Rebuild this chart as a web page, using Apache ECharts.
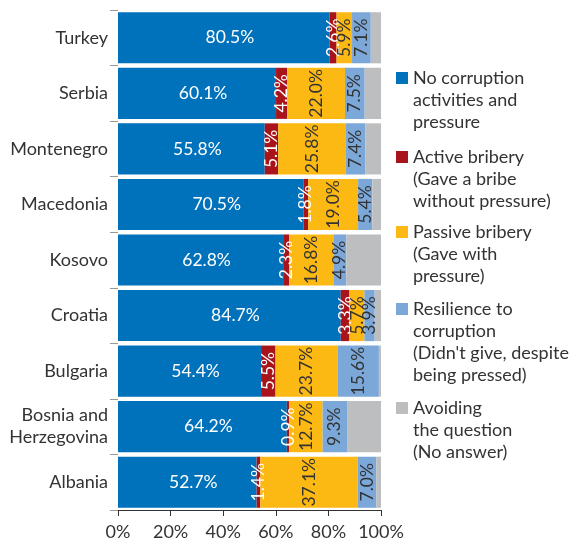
<!DOCTYPE html>
<html>
<head>
<meta charset="utf-8">
<script src="https://cdn.jsdelivr.net/npm/echarts@6/dist/echarts.min.js"></script>
<style>
  html, body { margin: 0; padding: 0; background: #fff; }
  #chart { width: 572px; height: 541px; }
</style>
</head>
<body>
<div id="chart"></div>
<script>
  // countries, top to bottom
  const countries = ['Turkey', 'Serbia', 'Montenegro', 'Macedonia', 'Kosovo', 'Croatia', 'Bulgaria', 'Bosnia and\nHerzegovina', 'Albania'];

  const noCorruption = [80.5, 60.1, 55.8, 70.5, 62.8, 84.7, 54.4, 64.2, 52.7];
  const activeBribery = [2.6, 4.2, 5.1, 1.8, 2.3, 3.3, 5.5, 0.9, 1.4];
  const passiveBribery = [5.9, 22.0, 25.8, 19.0, 16.8, 5.7, 23.7, 12.7, 37.1];
  const resilience = [7.1, 7.5, 7.4, 5.4, 4.9, 3.9, 15.6, 9.3, 7.0];
  const noAnswer = [3.9, 6.2, 5.9, 3.3, 13.2, 2.4, 0.8, 12.9, 1.8];

  const xTicks = [0, 20, 40, 60, 80, 100];

  const names = [
    'No corruption\nactivities and\npressure',
    'Active bribery\n(Gave a bribe\nwithout pressure)',
    'Passive bribery\n(Gave with\npressure)',
    'Resilience to\ncorruption\n(Didn\'t give, despite\nbeing pressed)',
    'Avoiding\nthe question\n(No answer)'
  ];
  const colors = ['#0071bb', '#a8141a', '#fdb913', '#7ba7d9', '#bcbec0'];

  const font = 'Lato';
  const lineH = 22;

  let chart = echarts.init(document.getElementById('chart'));

  function label(color, rotate, offset) {
    return {
      show: true,
      position: 'inside',
      rotate: rotate,
      offset: offset || [0, 0],
      color: color,
      fontFamily: font,
      fontSize: 17.5,
      formatter: p => p.value.toFixed(1) + '%'
    };
  }

  // one legend per item; blank lines in front keep the square on the first text line
  const iconCenters = [78, 157, 232, 309, 408];
  const legends = names.map((n, i) => {
    let lines = n.split('\n').length;
    let blank = lines - 1;
    return {
      orient: 'vertical',
      left: 396,
      top: iconCenters[i] - (lines + blank) * lineH / 2,
      padding: 0,
      itemWidth: 12,
      itemHeight: 12,
      itemGap: 0,
      icon: 'rect',
      selectedMode: false,
      data: [{ name: n }],
      formatter: name => '\n'.repeat(blank) + name,
      textStyle: {
        fontFamily: font,
        fontSize: 18,
        color: '#333',
        lineHeight: lineH
      }
    };
  });

  const seriesData = [noCorruption, activeBribery, passiveBribery, resilience, noAnswer];
  const labels = [label('#fff', 0, [6, 0]), label('#fff', 90), label('#333', 90), label('#333', 90), { show: false }];

  chart.setOption({
    animation: false,
    color: colors,
    legend: legends,
    grid: { left: 118, right: 191, top: 10, bottom: 30 },
    xAxis: {
      type: 'value',
      min: 0,
      max: 100,
      interval: 20,
      axisLine: { show: true, lineStyle: { color: '#333' } },
      axisTick: { show: true, length: 6, lineStyle: { color: '#333' } },
      splitLine: { show: false },
      axisLabel: {
        color: '#333',
        fontFamily: font,
        fontSize: 18,
        margin: 13,
        formatter: v => xTicks.includes(v) ? v + '%' : ''
      }
    },
    yAxis: {
      type: 'category',
      inverse: true,
      data: countries,
      axisLine: { show: false },
      axisTick: { show: true, length: 8, lineStyle: { color: '#999' } },
      axisLabel: {
        color: '#333',
        fontFamily: font,
        fontSize: 18,
        lineHeight: 22,
        margin: 10
      }
    },
    series: names.map((n, i) => ({
      name: n,
      type: 'bar',
      stack: 'all',
      barCategoryGap: '8%',
      data: seriesData[i],
      label: labels[i],
      itemStyle: { color: colors[i] }
    }))
  });
</script>
</body>
</html>
